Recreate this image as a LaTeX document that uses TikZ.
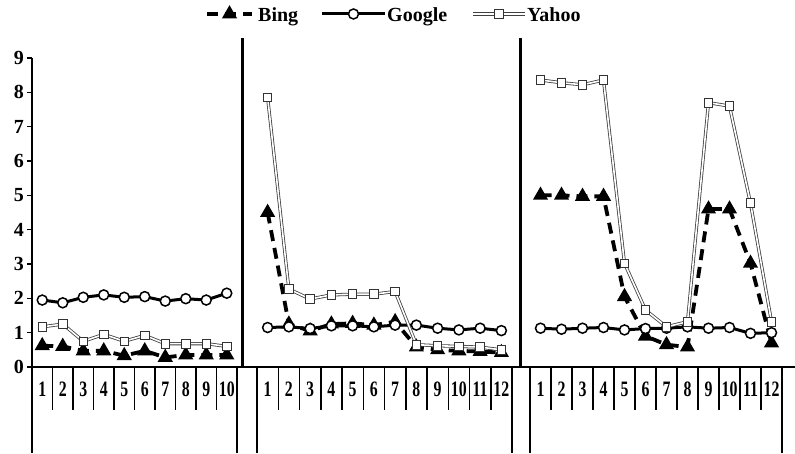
\documentclass[tikz,border=0pt]{standalone}
\usepackage{fontspec}
\setmainfont{Liberation Serif}
\usepackage{graphicx}
\usepackage{tikz}
\usetikzlibrary{plotmarks}

\begin{document}
\begin{tikzpicture}[x=1pt, y=1pt,
  font=\bfseries\fontsize{20}{22}\selectfont,
  axisline/.style={line width=1.5pt},
  panelline/.style={line width=3pt},
  bingline/.style={line width=3.8pt, dash pattern=on 11pt off 7pt,
    mark=triangle*, mark size=5pt, mark options={solid, fill=black}},
  googleline/.style={line width=3pt,
    mark=*, mark size=5pt, mark options={fill=white, line width=1.5pt}},
  yahooline/.style={draw=black!75, double=white, double distance=1.6pt, line width=0.8pt,
    mark=square*, mark size=4.3pt, mark options={fill=white, draw=black!80, line width=0.9pt}},
  catlabel/.style={inner sep=0pt, font=\bfseries\fontsize{22}{24}\selectfont}
]
\useasboundingbox (0,0) rectangle (795,453);

% axes %
\draw[axisline] (32,0) -- (32,395);
\draw[axisline] (32,86) -- (795,86);
\foreach \v in {0,...,9}
  \draw[axisline] (27,{86+\v*34.33}) -- (32,{86+\v*34.33})
    node[left=4pt] (y\v) {\v};

% block separators %
\draw[panelline] (242,86) -- (242,415);
\draw[panelline] (520,86) -- (520,415);

% long ticks %
\foreach \x in {237,257,512,530,782}
  \draw[axisline] (\x,86) -- (\x,0);

% category ticks and labels %
\foreach \k in {1,...,9}
  \draw[axisline] ({32+\k*20.5},86) -- ++(0,-43);
\foreach \k in {1,...,11}
  \draw[axisline] ({257+\k*21.25},86) -- ++(0,-43);
\foreach \k in {1,...,11}
  \draw[axisline] ({530+\k*21},86) -- ++(0,-43);
\foreach \i in {1,...,10}
  \node[catlabel] (a\i) at ({32+(\i-0.5)*20.5},64) {\scalebox{0.72}[1]{\i}};
\foreach \i in {1,...,12}
  \node[catlabel] (b\i) at ({257+(\i-0.5)*21.25},64) {\scalebox{0.72}[1]{\i}};
\foreach \i in {1,...,12}
  \node[catlabel] (c\i) at ({530+(\i-0.5)*21},64) {\scalebox{0.72}[1]{\i}};

% first block %
\begin{scope}[shift={(32,86)}, x=20.5pt, y=34.33pt]
\draw[bingline] plot coordinates {(0.5,0.62) (1.5,0.6) (2.5,0.47) (3.5,0.47) (4.5,0.33)
  (5.5,0.47) (6.5,0.28) (7.5,0.35) (8.5,0.35) (9.5,0.35)};
\draw[googleline] plot coordinates {(0.5,1.95) (1.5,1.87) (2.5,2.03) (3.5,2.1) (4.5,2.03)
  (5.5,2.05) (6.5,1.92) (7.5,1.99) (8.5,1.95) (9.5,2.15)};
\draw[yahooline] plot coordinates {(0.5,1.17) (1.5,1.25) (2.5,0.75) (3.5,0.95) (4.5,0.75)
  (5.5,0.92) (6.5,0.68) (7.5,0.68) (8.5,0.68) (9.5,0.6)};
\end{scope}

% second block %
\begin{scope}[shift={(257,86)}, x=21.25pt, y=34.33pt]
\draw[bingline] plot coordinates {(0.5,4.5) (1.5,1.25) (2.5,1.05) (3.5,1.25) (4.5,1.27)
  (5.5,1.22) (6.5,1.32) (7.5,0.58) (8.5,0.5) (9.5,0.47) (10.5,0.45) (11.5,0.42)};
\draw[googleline] plot coordinates {(0.5,1.15) (1.5,1.17) (2.5,1.12) (3.5,1.2) (4.5,1.2)
  (5.5,1.17) (6.5,1.22) (7.5,1.22) (8.5,1.13) (9.5,1.08) (10.5,1.13) (11.5,1.06)};
\draw[yahooline] plot coordinates {(0.5,7.85) (1.5,2.27) (2.5,1.98) (3.5,2.1) (4.5,2.12)
  (5.5,2.12) (6.5,2.2) (7.5,0.65) (8.5,0.62) (9.5,0.6) (10.5,0.58) (11.5,0.5)};
\end{scope}

% third block %
\begin{scope}[shift={(530,86)}, x=21pt, y=34.33pt]
\draw[bingline] plot coordinates {(0.5,5.0) (1.5,5.0) (2.5,4.97) (3.5,4.97) (4.5,2.05)
  (5.5,0.9) (6.5,0.65) (7.5,0.58) (8.5,4.6) (9.5,4.6) (10.5,3.02) (11.5,0.7)};
\draw[googleline] plot coordinates {(0.5,1.13) (1.5,1.1) (2.5,1.13) (3.5,1.15) (4.5,1.08)
  (5.5,1.12) (6.5,1.13) (7.5,1.17) (8.5,1.13) (9.5,1.15) (10.5,0.98) (11.5,1.0)};
\draw[yahooline] plot coordinates {(0.5,8.36) (1.5,8.28) (2.5,8.22) (3.5,8.36) (4.5,3.02)
  (5.5,1.66) (6.5,1.17) (7.5,1.32) (8.5,7.7) (9.5,7.6) (10.5,4.77) (11.5,1.32)};
\end{scope}

% legend %
\coordinate (kb1) at (207,439);
\coordinate (kb2) at (252,439);
\coordinate (kg1) at (322,439);
\coordinate (kg2) at (385,439);
\coordinate (ky1) at (473,439);
\coordinate (ky2) at (525,439);
\draw[bingline] (kb1) -- (kb2);
\draw[bingline] plot coordinates {(229.5,439)};
\draw[googleline] (kg1) -- (kg2);
\draw[googleline] plot coordinates {(353.5,439)};
\draw[yahooline] (ky1) -- (ky2);
\draw[yahooline] plot coordinates {(499,439)};
\node[anchor=base west, inner sep=0pt] (lbing) at (258,431.5) {Bing};
\node[anchor=base west, inner sep=0pt] (lgoogle) at (387,431.5) {Google};
\node[anchor=base west, inner sep=0pt] (lyahoo) at (527,431.5) {Yahoo};

\end{tikzpicture}
\end{document}
